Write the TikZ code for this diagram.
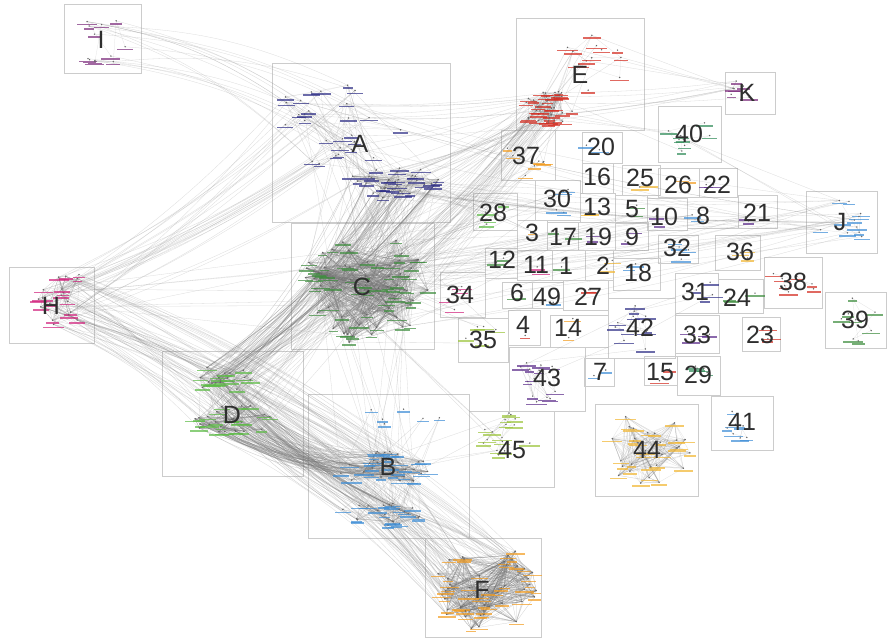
\documentclass[tikz,border=0pt]{standalone}
\usepackage{fontspec}
\setmainfont{Liberation Sans}
\definecolor{cnavy}{HTML}{2E2E86}
\definecolor{cred}{HTML}{D42A1E}
\definecolor{cpur}{HTML}{7B2A7B}
\definecolor{cgreen}{HTML}{3C8C3C}
\definecolor{clgreen}{HTML}{5CBB45}
\definecolor{cblue}{HTML}{3C8DD6}
\definecolor{corange}{HTML}{F39C1F}
\definecolor{cyell}{HTML}{F2B630}
\definecolor{cygreen}{HTML}{9BC43A}
\definecolor{cmag}{HTML}{D0217C}
\definecolor{cviolet}{HTML}{5A2A8A}
\definecolor{cdgreen}{HTML}{2E8B57}
\tikzset{
  boxst/.style={draw=black!20, line width=0.5pt},
  biglab/.style={font=\fontsize{25}{25}\selectfont, text=black!82, inner sep=0pt},
  inedge/.style={draw=black!55, line width=0.25pt, opacity=0.35},
  lightedge/.style={draw=black!45, line width=0.25pt, opacity=0.25},
  link/.style={draw=black!45, line width=0.3pt, opacity=0.3},
  heavylink/.style={draw=black!55, line width=0.35pt, opacity=0.35},
  dotc/.style={fill=black!60},
}
\newcommand\defcl[6]{%
  \expandafter\xdef\csname clsize#1\endcsname{#6}%
  \foreach \k in {1,...,#6}{%
    \pgfmathsetmacro\ang{360*rnd}%
    \pgfmathsetmacro\rr{sqrt(rnd)}%
    \coordinate (#1-\k) at ({#2+#4*\rr*cos(\ang)},{#3+#5*\rr*sin(\ang)});%
  }%
}
\newcommand\cledges[3]{%
  \pgfmathtruncatemacro\nn{\csname clsize#1\endcsname}%
  \foreach \k in {1,...,#2}{%
    \pgfmathtruncatemacro\ia{random(1,\nn)}%
    \pgfmathtruncatemacro\ib{random(1,\nn)}%
    \draw[#3] (#1-\ia) -- (#1-\ib);%
  }%
}
\newcommand\bundle[5]{%
  \pgfmathtruncatemacro\na{\csname clsize#1\endcsname}%
  \pgfmathtruncatemacro\nb{\csname clsize#2\endcsname}%
  \foreach \k in {1,...,#3}{%
    \pgfmathtruncatemacro\ia{random(1,\na)}%
    \pgfmathtruncatemacro\ib{random(1,\nb)}%
    \draw[#5] (#1-\ia) to[bend left=#4] (#2-\ib);%
  }%
}
\newcommand\cldots[2]{%
  \pgfmathtruncatemacro\nn{\csname clsize#1\endcsname}%
  \foreach \k in {1,...,\nn}{%
    \pgfmathsetmacro\w{4.5+6*rnd}%
    \fill[#2,opacity=0.7] ([xshift=-\w pt,yshift=-2.2pt]#1-\k) rectangle ([xshift=\w pt,yshift=-3.7pt]#1-\k);%
    \fill[dotc] (#1-\k) circle (0.8pt);%
  }%
}
\def\boxlist{I/64/4/141/73/101/40, A/272/63/450/222/360/144, E/516/18/644/130/580/75,
 K/725/72/775/114/747/93, 40/658/106/721/162/689/134, 37/501/130/555/180/526/156,
 20/582/132/622/163/601/147, 16/582/163/613/193/597/177, 25/622/165/660/195/640/178,
 26/658/168/699/197/678/185, 22/699/168/737/197/717/185, 28/473/193/517/230/493/213,
 30/535/180/580/220/557/199, 13/580/193/615/222/597/207, 5/615/195/647/223/632/209,
 10/647/198/687/230/664/217, 8/687/197/738/228/703/216, 21/738/195/777/228/757/213,
 J/806/191/877/253/840/222, 3/517/220/547/250/532/233, 17/547/222/578/250/563/237,
 19/578/222/615/250/598/237, 9/615/222/648/250/632/237, 32/658/235/698/263/677/248,
 36/715/235/760/270/740/252, 12/485/248/517/278/502/260, 11/517/250/552/280/536/265,
 1/552/250/585/280/566/266, 2/585/250/613/280/603/266, 18/613/258/660/290/638/273,
 34/440/272/485/317/460/295, 6/502/282/532/308/517/293, 49/532/282/563/308/547/297,
 27/563/280/608/310/588/297, 31/675/273/718/313/695/292, 24/718/279/763/313/737/298,
 38/764/257/822/308/793/282, 39/825/292/886/348/855/320, 4/508/310/540/345/523/325,
 14/550/315/608/347/568/328, 42/608/298/675/358/640/328, 33/675/315/719/353/697/335,
 23/742/317/780/351/760/335, 35/458/318/508/362/483/340, 43/509/347/585/411/547/378,
 7/584/358/614/386/600/372, 15/644/356/677/385/660/372, 29/677/356/720/395/698/375,
 41/711/396/773/450/742/422, C/291/223/434/349/362/287, H/9/267/94/343/51/306,
 D/162/351/303/476/232/415, B/308/394/469/538/388/467, 45/469/411/554/487/512/450,
 44/595/404/698/496/647/450, F/425/538/541/637/482/590}
\begin{document}
\begin{tikzpicture}[x=1pt,y=-1pt]
\pgfmathsetseed{11}
\fill[white] (0,0) rectangle (888,640);
\useasboundingbox (0,0) rectangle (888,640);
% ---- clusters (positions) ----
\defcl{cI}{103}{42}{30}{25}{12}
\defcl{cA1}{335}{128}{72}{55}{28}
\defcl{cA2}{392}{182}{48}{16}{30}
\defcl{cE1}{548}{108}{28}{18}{32}
\defcl{cE2}{598}{62}{35}{36}{12}
\defcl{cK}{748}{93}{22}{15}{6}
\defcl{c40}{690}{134}{25}{20}{8}
\defcl{cJ}{840}{222}{30}{24}{11}
\defcl{cC}{362}{288}{66}{56}{66}
\defcl{cH}{62}{300}{28}{32}{18}
\defcl{cDa}{225}{378}{40}{12}{18}
\defcl{cDb}{238}{420}{45}{16}{26}
\defcl{cBa}{385}{468}{48}{17}{32}
\defcl{cBb}{385}{515}{48}{14}{22}
\defcl{cBc}{395}{412}{52}{14}{6}
\defcl{cF}{485}{587}{52}{46}{48}
\defcl{c44}{647}{450}{45}{38}{30}
\defcl{c45}{505}{440}{35}{28}{16}
\defcl{c43}{547}{378}{32}{27}{13}
\defcl{c42}{640}{328}{30}{24}{11}
\defcl{c41}{742}{422}{25}{22}{7}
\defcl{c39}{855}{320}{25}{22}{8}
\defcl{c38}{793}{282}{24}{20}{7}
\defcl{c37}{526}{156}{22}{20}{7}
\defcl{c33}{697}{335}{18}{15}{4}
\defcl{c31}{696}{292}{18}{16}{4}
\defcl{c35}{483}{340}{20}{17}{5}
\defcl{c34}{460}{295}{20}{18}{4}
\defcl{c23}{760}{335}{15}{14}{3}
\defcl{c24}{740}{298}{18}{13}{3}
\defcl{c29}{698}{376}{18}{15}{4}
\defcl{c36}{738}{252}{18}{14}{3}
\defcl{c32}{677}{248}{17}{12}{4}
\defcl{c28}{493}{212}{18}{15}{4}
\defcl{c30}{557}{200}{20}{16}{4}
\defcl{c20}{601}{147}{15}{12}{2}
\defcl{c25}{640}{178}{15}{12}{2}
\defcl{c26}{678}{185}{15}{10}{2}
\defcl{c22}{717}{185}{15}{10}{2}
\defcl{c13}{597}{207}{14}{10}{2}
\defcl{c5}{632}{209}{13}{10}{2}
\defcl{c10}{664}{217}{15}{10}{2}
\defcl{c8}{703}{216}{15}{10}{2}
\defcl{c21}{757}{213}{15}{12}{2}
\defcl{c17}{563}{237}{13}{10}{2}
\defcl{c19}{598}{237}{14}{10}{2}
\defcl{c9}{632}{237}{13}{10}{2}
\defcl{c12}{502}{260}{13}{10}{2}
\defcl{c11}{536}{265}{13}{10}{2}
\defcl{c1}{566}{266}{13}{10}{1}
\defcl{c2}{603}{266}{12}{10}{2}
\defcl{c18}{638}{273}{18}{12}{2}
\defcl{c6}{517}{293}{12}{10}{2}
\defcl{c49}{547}{297}{12}{10}{1}
\defcl{c27}{588}{297}{16}{10}{2}
\defcl{c4}{523}{325}{12}{12}{1}
\defcl{c14}{568}{328}{18}{12}{2}
\defcl{c7}{600}{372}{13}{10}{2}
\defcl{c15}{660}{372}{13}{10}{2}
\defcl{c3}{532}{233}{12}{10}{1}
% ---- boxes ----
\foreach \t/\xa/\ya/\xb/\yb/\lx/\ly in \boxlist {\draw[boxst] (\xa,\ya) rectangle (\xb,\yb);}
% ---- intra-cluster edges ----
\cledges{cC}{800}{inedge}
\cledges{cF}{520}{inedge}
\cledges{c44}{300}{lightedge}
\cledges{cDa}{80}{inedge}
\cledges{cDb}{150}{inedge}
\cledges{cBa}{180}{inedge}
\cledges{cBb}{80}{inedge}
\cledges{cA2}{120}{inedge}
\cledges{cA1}{35}{lightedge}
\cledges{cE1}{100}{inedge}
\cledges{cE2}{10}{lightedge}
\cledges{cH}{60}{inedge}
\cledges{cI}{8}{lightedge}
\cledges{c45}{20}{lightedge}
\cledges{c43}{25}{lightedge}
\cledges{c42}{20}{lightedge}
\cledges{cJ}{14}{lightedge}
\cledges{c40}{8}{lightedge}
\cledges{c39}{8}{lightedge}
\cledges{c38}{8}{lightedge}
\cledges{c41}{8}{lightedge}
\cledges{c37}{6}{lightedge}
\cledges{cK}{5}{lightedge}
% ---- inter-cluster bundles ----
\bundle{cA1}{cA2}{25}{0}{link}
\bundle{cBa}{cBb}{30}{0}{link}
\bundle{cBc}{cBa}{10}{0}{link}
\bundle{cDa}{cDb}{25}{0}{link}
\bundle{cE1}{cE2}{12}{0}{link}
\bundle{cI}{cA1}{18}{12}{link}
\bundle{cH}{cA1}{30}{-6}{link}
\bundle{cH}{cC}{8}{0}{link}
\bundle{cH}{cDb}{15}{5}{link}
\bundle{cH}{cBa}{30}{8}{link}
\bundle{cH}{cF}{25}{10}{link}
\bundle{cDa}{cA2}{50}{-8}{heavylink}
\bundle{cDb}{cA2}{20}{-10}{link}
\bundle{cDa}{cE1}{20}{-12}{link}
\bundle{cDb}{cBa}{70}{-15}{heavylink}
\bundle{cDa}{cBb}{30}{-12}{heavylink}
\bundle{cDa}{cF}{15}{10}{link}
\bundle{cDb}{cF}{20}{10}{link}
\bundle{cBb}{cF}{25}{5}{link}
\bundle{cBa}{cF}{15}{5}{link}
\bundle{cC}{cBa}{15}{0}{link}
\bundle{cC}{cA2}{30}{0}{link}
\bundle{cC}{cA1}{15}{0}{link}
\bundle{cC}{cE1}{25}{-6}{link}
\bundle{cA2}{cE1}{20}{-5}{link}
\bundle{cA1}{cE1}{10}{-5}{link}
\bundle{cC}{cJ}{15}{-4}{link}
\bundle{cA2}{cJ}{10}{-4}{link}
\bundle{cA1}{cJ}{6}{-4}{link}
\bundle{cE1}{cK}{8}{-3}{link}
\bundle{cE2}{cK}{4}{0}{link}
\bundle{cE1}{c37}{6}{0}{link}
\bundle{cE1}{c40}{4}{0}{link}
\bundle{c40}{cJ}{3}{0}{link}
\bundle{cC}{c28}{5}{0}{link}
\bundle{cC}{c30}{5}{0}{link}
\bundle{cC}{c37}{5}{0}{link}
\bundle{cC}{c34}{4}{0}{link}
\bundle{cC}{c35}{4}{0}{link}
\bundle{cC}{c12}{3}{0}{link}
\bundle{cC}{c17}{3}{0}{link}
\bundle{cC}{c19}{3}{0}{link}
\bundle{cC}{c5}{3}{0}{link}
\bundle{cC}{c10}{3}{0}{link}
\bundle{cC}{c8}{3}{0}{link}
\bundle{cC}{c21}{3}{0}{link}
\bundle{cA2}{c28}{4}{0}{link}
\bundle{cA2}{c30}{4}{0}{link}
\bundle{cA2}{c13}{3}{0}{link}
\bundle{cA2}{c3}{3}{0}{link}
\bundle{cBa}{c45}{4}{0}{link}
\bundle{cC}{c45}{3}{0}{link}
\bundle{c42}{c43}{3}{0}{link}
\bundle{c31}{c42}{3}{0}{link}
% ---- nodes ----
\cldots{cI}{cpur}
\cldots{cA1}{cnavy}
\cldots{cA2}{cnavy}
\cldots{cE1}{cred}
\cldots{cE2}{cred}
\cldots{cK}{cpur}
\cldots{c40}{cdgreen}
\cldots{cJ}{cblue}
\cldots{cC}{cgreen}
\cldots{cH}{cmag}
\cldots{cDa}{clgreen}
\cldots{cDb}{clgreen}
\cldots{cBa}{cblue}
\cldots{cBb}{cblue}
\cldots{cBc}{cblue}
\cldots{cF}{corange}
\cldots{c44}{cyell}
\cldots{c45}{cygreen}
\cldots{c43}{cviolet}
\cldots{c42}{cnavy}
\cldots{c41}{cblue}
\cldots{c39}{cgreen}
\cldots{c38}{cred}
\cldots{c37}{corange}
\cldots{c33}{cviolet}
\cldots{c31}{cnavy}
\cldots{c35}{cygreen}
\cldots{c34}{cmag}
\cldots{c23}{cred}
\cldots{c24}{cgreen}
\cldots{c29}{cdgreen}
\cldots{c36}{cyell}
\cldots{c32}{cblue}
\cldots{c28}{clgreen}
\cldots{c30}{cblue}
\cldots{c20}{cblue}
\cldots{c25}{cyell}
\cldots{c26}{corange}
\cldots{c22}{cviolet}
\cldots{c13}{cyell}
\cldots{c5}{cgreen}
\cldots{c10}{cviolet}
\cldots{c8}{cblue}
\cldots{c21}{cviolet}
\cldots{c17}{cgreen}
\cldots{c19}{cviolet}
\cldots{c9}{cviolet}
\cldots{c12}{cgreen}
\cldots{c11}{cmag}
\cldots{c1}{cgreen}
\cldots{c2}{cyell}
\cldots{c18}{cblue}
\cldots{c6}{cgreen}
\cldots{c49}{cblue}
\cldots{c27}{cred}
\cldots{c4}{cred}
\cldots{c14}{corange}
\cldots{c7}{cblue}
\cldots{c15}{cred}
\cldots{c3}{corange}
% ---- labels ----
\foreach \t/\xa/\ya/\xb/\yb/\lx/\ly in \boxlist {\node[biglab] (lab\t) at (\lx,\ly) {\t};}
\end{tikzpicture}
\end{document}
